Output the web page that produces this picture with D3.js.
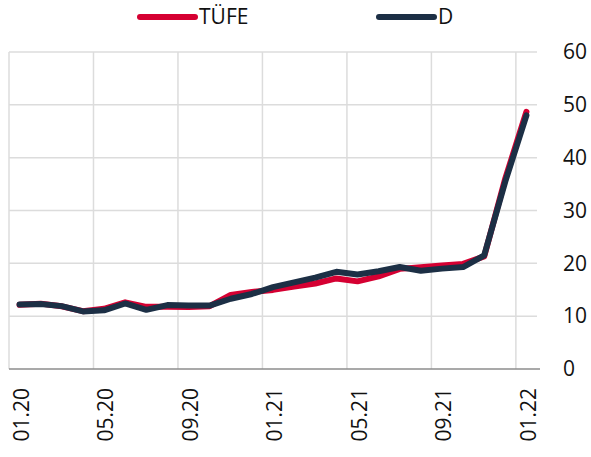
<!DOCTYPE html>
<html>
<head>
<meta charset="utf-8">
<script src="https://cdn.jsdelivr.net/npm/d3@7"></script>
<style>
body { margin: 0; background: #fff; }
text { font-family: "Open Sans", "Noto Sans", sans-serif; fill: #111; }
</style>
</head>
<body>
<div id="chart"></div>
<script>
// aylar (01.20 - 01.22)
var months = ['01.20','02.20','03.20','04.20','05.20','06.20','07.20','08.20','09.20','10.20','11.20','12.20',
	'01.21','02.21','03.21','04.21','05.21','06.21','07.21','08.21','09.21','10.21','11.21','12.21','01.22'];
var tufe = [12.15,12.37,11.86,10.94,11.39,12.62,11.76,11.77,11.75,11.89,14.03,14.60,
	14.97,15.61,16.19,17.14,16.59,17.53,18.95,19.25,19.58,19.89,21.31,36.08,48.69];
var dCore = [12.2,12.3,11.9,10.9,11.1,12.4,11.2,12.1,12.0,12.0,13.3,14.2,
	15.5,16.4,17.3,18.4,17.9,18.5,19.3,18.6,19.0,19.3,21.5,35.5,48.0];
var tickMonths = ['01.20','05.20','09.20','01.21','05.21','09.21','01.22'];
var yTicks = [0,10,20,30,40,50,60];

var W = 591, H = 457;
var margin = {left: 9, right: 54, top: 52, bottom: 88};

var svg = d3.select('#chart').append('svg')
	.attr('width', W)
	.attr('height', H);

var x = d3.scaleBand()
	.domain(months)
	.range([margin.left, W - margin.right])
	.padding(0);
var y = d3.scaleLinear()
	.domain([0, 60])
	.range([H - margin.bottom, margin.top]);

// yatay ızgara
svg.append('g')
	.selectAll('line')
	.data(yTicks.filter(function(d){ return d > 0; }))
	.enter().append('line')
	.attr('x1', margin.left)
	.attr('x2', W - margin.right)
	.attr('y1', function(d){ return y(d); })
	.attr('y2', function(d){ return y(d); })
	.attr('stroke', '#dcdcdc')
	.attr('stroke-width', 1.5);

// dikey ızgara (kategori sınırlarında)
svg.append('g')
	.selectAll('line')
	.data(tickMonths)
	.enter().append('line')
	.attr('x1', function(d){ return x(d); })
	.attr('x2', function(d){ return x(d); })
	.attr('y1', y(60))
	.attr('y2', y(0))
	.attr('stroke', '#dcdcdc')
	.attr('stroke-width', 1.5);

// sıfır çizgisi
svg.append('line')
	.attr('x1', margin.left)
	.attr('x2', W - margin.right + 3)
	.attr('y1', y(0))
	.attr('y2', y(0))
	.attr('stroke', '#8c8c8c')
	.attr('stroke-width', 1.5);

// y ekseni sağda
var yAxis = d3.axisRight(y).tickValues(yTicks).tickSize(0).tickPadding(0);
var yg = svg.append('g')
	.attr('transform', 'translate(563,0)')
	.call(yAxis);
yg.select('.domain').remove();
yg.selectAll('text')
	.attr('font-size', 21)
	.style('font-family', '"Open Sans", sans-serif')
	.attr('fill', '#111');

// x etiketleri
svg.append('g')
	.selectAll('text')
	.data(tickMonths)
	.enter().append('text')
	.attr('transform', function(d){
		return 'translate(' + (x(d) + x.bandwidth()/2 + 2) + ',388) rotate(-90)';
	})
	.attr('text-anchor', 'end')
	.attr('dy', '0.35em')
	.attr('font-size', 21)
	.text(function(d){ return d; });

var line = d3.line()
	.x(function(d, i){ return x(months[i]) + x.bandwidth()/2; })
	.y(function(d){ return y(d); });

svg.append('path')
	.datum(tufe)
	.attr('fill', 'none')
	.attr('stroke', '#d50032')
	.attr('stroke-width', 6)
	.attr('stroke-linejoin', 'round')
	.attr('stroke-linecap', 'round')
	.attr('d', line);

svg.append('path')
	.datum(dCore)
	.attr('fill', 'none')
	.attr('stroke', '#1c2f45')
	.attr('stroke-width', 6)
	.attr('stroke-linejoin', 'round')
	.attr('stroke-linecap', 'round')
	.attr('d', line);

// lejant
var legendItems = [
	{name: 'TÜFE', color: '#d50032', x: 140},
	{name: 'D', color: '#1c2f45', x: 379}
];
var lg = svg.append('g').selectAll('g')
	.data(legendItems)
	.enter().append('g')
	.attr('transform', function(d){ return 'translate(' + d.x + ',17)'; });
lg.append('line')
	.attr('x1', 0).attr('x2', 55)
	.attr('stroke', function(d){ return d.color; })
	.attr('stroke-width', 6)
	.attr('stroke-linecap', 'round');
lg.append('text')
	.attr('x', 59)
	.attr('dy', '0.35em')
	.attr('font-size', 21)
	.text(function(d){ return d.name; });
</script>
</body>
</html>
